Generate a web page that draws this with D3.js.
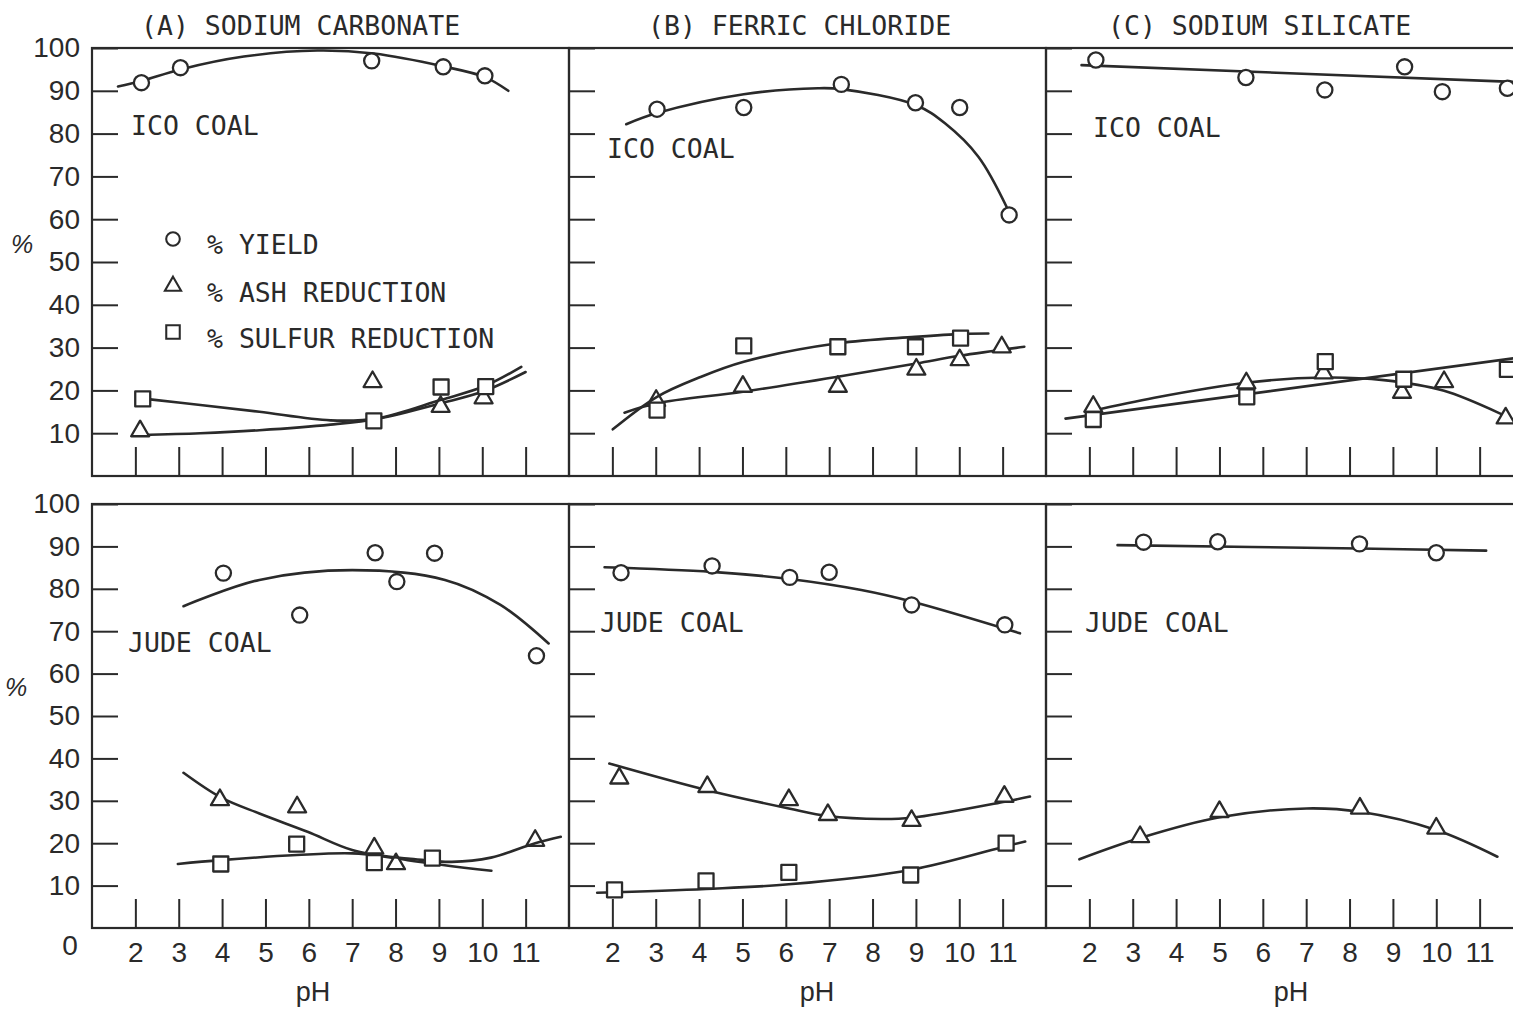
<!DOCTYPE html>
<html>
<head>
<meta charset="utf-8">
<script src="https://cdn.jsdelivr.net/npm/d3@7"></script>
<style>
  body { margin: 0; background: #fff; }
  .mono { font-family: "DejaVu Sans Mono", monospace; font-size: 26.5px; fill: #2a2a2a; }
  .num { font-family: "Liberation Sans Narrow", "Arial Narrow", "Liberation Sans", sans-serif; font-size: 28px; fill: #2a2a2a; }
</style>
</head>
<body>
<svg width="1513" height="1013"></svg>
<script>
// ---- data (pH, %) ----
var phTicks = [2, 3, 4, 5, 6, 7, 8, 9, 10, 11];
var pctTicks = [10, 20, 30, 40, 50, 60, 70, 80, 90, 100];
var titles = ['(A) SODIUM CARBONATE', '(B) FERRIC CHLORIDE', '(C) SODIUM SILICATE'];
var coals = ['ICO COAL', 'JUDE COAL'];
var legendLabels = ['% YIELD', '% ASH REDUCTION', '% SULFUR REDUCTION'];

// ICO coal, sodium carbonate
var icoCarbYield = [[2.14, 91.9], [3.04, 95.4], [7.45, 97.0], [9.1, 95.6], [10.06, 93.5]];
var icoCarbYieldFit = [[1.6, 91.0], [2.14, 92.3], [3.04, 95.0], [4.5, 98.0], [6.2, 99.4], [7.5, 98.7], [9.1, 95.7], [10.06, 93.2], [10.6, 90.0]];
var icoCarbAsh = [[2.11, 10.5], [7.47, 22.0], [9.04, 16.2], [10.03, 18.2]];
var icoCarbAshFit = [[2.12, 9.6], [3.5, 10.0], [4.86, 10.7], [6.5, 12.0], [7.6, 13.4], [9.05, 17.0], [10.03, 19.8], [11.0, 24.3]];
var icoCarbSulfur = [[2.17, 18.0], [7.5, 12.9], [9.05, 20.8], [10.08, 20.9]];
var icoCarbSulfurFit = [[2.34, 17.9], [3.5, 16.6], [4.86, 15.0], [6.5, 13.0], [7.6, 13.5], [9.05, 17.8], [10.03, 20.9], [10.9, 25.5]];

// ICO coal, ferric chloride
var icoFerrYield = [[3.03, 85.7], [5.03, 86.1], [7.28, 91.5], [8.99, 87.2], [10.01, 86.1], [11.15, 61.0]];
var icoFerrYieldFit = [[2.32, 82.2], [3.03, 84.8], [5.03, 89.2], [6.74, 90.6], [7.28, 90.4], [8.99, 86.7], [9.67, 82.4], [10.44, 74.6], [11.09, 62.9]];
var icoFerrAsh = [[3.01, 17.6], [5.01, 20.9], [7.2, 20.9], [9.01, 24.9], [10.01, 27.1], [10.98, 30.1]];
var icoFerrAshFit = [[2.28, 14.8], [3.03, 17.0], [5.01, 19.7], [7.2, 23.2], [9.01, 26.3], [10.01, 28.1], [11.5, 30.2]];
var icoFerrSulfur = [[3.03, 15.4], [5.03, 30.4], [7.2, 30.2], [8.99, 30.2], [10.03, 32.2]];
var icoFerrSulfurFit = [[2.01, 10.9], [3.03, 18.5], [4.0, 23.0], [5.03, 26.7], [7.2, 31.0], [8.98, 32.5], [10.06, 33.2], [10.67, 33.3]];

// ICO coal, sodium silicate
var icoSilYield = [[2.15, 97.2], [5.61, 93.1], [7.43, 90.2], [9.27, 95.6], [10.14, 89.8], [11.64, 90.6]];
var icoSilYieldFit = [[1.82, 96.0], [12.0, 92.0]];
var icoSilAsh = [[2.09, 16.2], [5.62, 21.7], [7.4, 24.0], [9.21, 19.5], [10.18, 22.0], [11.6, 13.5]];
var icoSilAshFit = [[2.05, 15.2], [3.5, 18.3], [5.62, 21.8], [7.4, 23.0], [8.79, 22.4], [10.18, 19.9], [11.6, 14.0], [11.9, 12.5]];
var icoSilSulfur = [[2.09, 13.2], [5.63, 18.5], [7.44, 26.7], [9.25, 22.6], [11.64, 24.9]];
var icoSilSulfurFit = [[1.45, 13.4], [12.0, 27.8]];

// Jude coal, sodium carbonate
var judeCarbYield = [[4.03, 83.7], [5.79, 73.8], [7.53, 88.5], [8.03, 81.7], [8.9, 88.4], [11.25, 64.2]];
var judeCarbYieldFit = [[3.11, 75.9], [4.86, 82.1], [7.0, 84.4], [9.14, 82.1], [10.42, 76.2], [11.53, 67.1]];
var judeCarbAsh = [[3.95, 30.2], [5.73, 28.5], [7.51, 18.8], [8.01, 15.1], [11.22, 20.6]];
var judeCarbAshFit = [[3.11, 36.6], [3.97, 30.8], [4.86, 27.0], [5.97, 22.7], [7.0, 18.4], [8.28, 16.0], [10.21, 13.5]];
var judeCarbSulfur = [[3.97, 15.1], [5.72, 19.8], [7.51, 15.4], [8.85, 16.5]];
var judeCarbSulfurFit = [[2.98, 15.1], [3.97, 16.0], [5.72, 17.2], [7.0, 17.6], [8.28, 16.4], [9.3, 15.6], [10.2, 16.6], [11.22, 20.0], [11.81, 21.5]];

// Jude coal, ferric chloride
var judeFerrYield = [[2.2, 83.8], [4.3, 85.4], [6.09, 82.7], [7.0, 83.9], [8.9, 76.2], [11.05, 71.5]];
var judeFerrYieldFit = [[1.82, 85.1], [4.3, 84.0], [6.09, 82.3], [7.74, 79.7], [8.9, 77.0], [11.4, 69.5]];
var judeFerrAsh = [[2.16, 35.3], [4.19, 33.3], [6.07, 30.2], [6.97, 26.7], [8.9, 25.3], [11.04, 31.0]];
var judeFerrAshFit = [[1.93, 38.8], [4.19, 32.5], [6.07, 28.2], [6.97, 26.4], [8.2, 25.7], [8.9, 26.0], [11.05, 29.8], [11.63, 31.0]];
var judeFerrSulfur = [[2.05, 9.0], [4.16, 11.1], [6.07, 13.1], [8.88, 12.5], [11.08, 20.0]];
var judeFerrSulfurFit = [[1.65, 8.3], [4.16, 9.2], [6.07, 10.3], [8.88, 13.7], [11.08, 19.3], [11.52, 20.4]];

// Jude coal, sodium silicate
var judeSilYield = [[3.25, 91.0], [4.96, 91.1], [8.23, 90.6], [10.0, 88.5]];
var judeSilYieldFit = [[2.65, 90.3], [8.23, 89.5], [11.15, 89.0]];
var judeSilAsh = [[3.17, 21.5], [5.0, 27.4], [8.24, 28.2], [10.0, 23.5]];
var judeSilAshFit = [[1.77, 16.2], [3.17, 21.2], [5.0, 26.1], [7.01, 28.2], [8.24, 27.4], [10.0, 23.1], [11.41, 16.8]];

var series = [
  { row: 0, col: 0, shape: 'circle', pts: icoCarbYield, fit: icoCarbYieldFit },
  { row: 0, col: 0, shape: 'triangle', pts: icoCarbAsh, fit: icoCarbAshFit },
  { row: 0, col: 0, shape: 'square', pts: icoCarbSulfur, fit: icoCarbSulfurFit },
  { row: 0, col: 1, shape: 'circle', pts: icoFerrYield, fit: icoFerrYieldFit },
  { row: 0, col: 1, shape: 'triangle', pts: icoFerrAsh, fit: icoFerrAshFit },
  { row: 0, col: 1, shape: 'square', pts: icoFerrSulfur, fit: icoFerrSulfurFit },
  { row: 0, col: 2, shape: 'circle', pts: icoSilYield, fit: icoSilYieldFit },
  { row: 0, col: 2, shape: 'triangle', pts: icoSilAsh, fit: icoSilAshFit },
  { row: 0, col: 2, shape: 'square', pts: icoSilSulfur, fit: icoSilSulfurFit },
  { row: 1, col: 0, shape: 'circle', pts: judeCarbYield, fit: judeCarbYieldFit },
  { row: 1, col: 0, shape: 'triangle', pts: judeCarbAsh, fit: judeCarbAshFit },
  { row: 1, col: 0, shape: 'square', pts: judeCarbSulfur, fit: judeCarbSulfurFit },
  { row: 1, col: 1, shape: 'circle', pts: judeFerrYield, fit: judeFerrYieldFit },
  { row: 1, col: 1, shape: 'triangle', pts: judeFerrAsh, fit: judeFerrAshFit },
  { row: 1, col: 1, shape: 'square', pts: judeFerrSulfur, fit: judeFerrSulfurFit },
  { row: 1, col: 2, shape: 'circle', pts: judeSilYield, fit: judeSilYieldFit },
  { row: 1, col: 2, shape: 'triangle', pts: judeSilAsh, fit: judeSilAshFit }
];

// ---- layout ----
var ink = '#2a2a2a';
var svg = d3.select('svg');
var colLeft = [92, 569, 1046],
  colW = 477;
var rowTop = [48, 504],
  rowBottom = [476, 928];
var titleX = [141, 648, 1108];
var coalPos = [
  [[131, 135], [607, 158], [1093, 137]],
  [[128, 652], [600, 632], [1085, 632]]
];
var phLabelX = [313, 817, 1291];

svg.append('rect').attr('width', 1513).attr('height', 1013).attr('fill', '#fff');

function xScale(col) {
  return d3.scaleLinear().domain([1, 12]).range([colLeft[col], colLeft[col] + colW]);
}
function yScale(row) {
  return d3.scaleLinear().domain([0, 100]).range([rowBottom[row], rowTop[row]]);
}

var symbolSize = { circle: 180, triangle: 140, square: 225 };
var symbolType = { circle: d3.symbolCircle, triangle: d3.symbolTriangle, square: d3.symbolSquare };
function symbolPath(shape) {
  return d3.symbol().type(symbolType[shape]).size(symbolSize[shape])();
}

// frames + axes
[0, 1].forEach(function(row) {
  [0, 1, 2].forEach(function(col) {
    var x = xScale(col),
      y = yScale(row);
    var g = svg.append('g').attr('class', 'panel');

    g.append('rect')
      .attr('x', colLeft[col])
      .attr('y', rowTop[row])
      .attr('width', colW)
      .attr('height', rowBottom[row] - rowTop[row])
      .attr('fill', 'none')
      .attr('stroke', ink)
      .attr('stroke-width', 2.2);

    var xAxis = g
      .append('g')
      .attr('transform', 'translate(0,' + rowBottom[row] + ')')
      .call(
        d3
          .axisBottom(x)
          .tickValues(phTicks)
          .tickSize(-29)
          .tickPadding(14)
          .tickFormat(row === 1 ? d3.format('d') : function() { return ''; })
      );
    xAxis.select('.domain').remove();
    xAxis.selectAll('line').attr('stroke', ink).attr('stroke-width', 2);
    xAxis.selectAll('text').attr('class', 'num').attr('font-size', null).attr('font-family', null).attr('fill', ink);

    var yAxis = g
      .append('g')
      .attr('transform', 'translate(' + colLeft[col] + ',0)')
      .call(
        d3
          .axisLeft(y)
          .tickValues(pctTicks)
          .tickSize(-26)
          .tickPadding(12)
          .tickFormat(col === 0 ? d3.format('d') : function() { return ''; })
      );
    yAxis.select('.domain').remove();
    yAxis.selectAll('line').attr('stroke', ink).attr('stroke-width', 2);
    yAxis.selectAll('text').attr('class', 'num').attr('font-size', null).attr('font-family', null).attr('fill', ink);

    g.append('text')
      .attr('class', 'mono')
      .attr('x', coalPos[row][col][0])
      .attr('y', coalPos[row][col][1])
      .text(coals[row]);

    if (row === 0) {
      g.append('text')
        .attr('class', 'mono')
        .attr('x', titleX[col])
        .attr('y', 35)
        .text(titles[col]);
    } else {
      g.append('text')
        .attr('class', 'num')
        .attr('x', phLabelX[col])
        .attr('y', 1001)
        .attr('text-anchor', 'middle')
        .style('font-size', '27px')
        .text('pH');
    }
  });
});

// zero label and % labels
svg.append('text').attr('class', 'num').attr('x', 70).attr('y', 955).attr('text-anchor', 'middle').text('0');
svg.append('text').attr('class', 'num').attr('x', 22).attr('y', 253).attr('text-anchor', 'middle')
  .style('font-style', 'italic').style('font-size', '25px').text('%');
svg.append('text').attr('class', 'num').attr('x', 16).attr('y', 696).attr('text-anchor', 'middle')
  .style('font-style', 'italic').style('font-size', '25px').text('%');

// fitted curves and markers
var plot = svg.append('g').attr('class', 'plot');
series.forEach(function(s) {
  var x = xScale(s.col),
    y = yScale(s.row);
  var line = d3
    .line()
    .x(function(d) { return x(d[0]); })
    .y(function(d) { return y(d[1]); })
    .curve(d3.curveCatmullRom.alpha(0.5));

  plot.append('path')
    .datum(s.fit)
    .attr('d', line)
    .attr('fill', 'none')
    .attr('stroke', ink)
    .attr('stroke-width', 2.6)
    .attr('stroke-linecap', 'round');

  plot.append('g')
    .selectAll('path')
    .data(s.pts)
    .enter()
    .append('path')
    .attr('d', symbolPath(s.shape))
    .attr('transform', function(d) {
      return 'translate(' + x(d[0]) + ',' + y(d[1]) + ')';
    })
    .attr('fill', '#fff')
    .attr('stroke', ink)
    .attr('stroke-width', 2.3)
    .attr('stroke-linejoin', 'round');
});

// legend (panel A, ICO coal)
var legendShapes = ['circle', 'triangle', 'square'];
var legendMarkY = [239, 286, 332];
var legendTextY = [254, 302, 348];
var legend = svg.append('g').attr('class', 'legend');
legendLabels.forEach(function(label, i) {
  legend.append('path')
    .attr('d', symbolPath(legendShapes[i]))
    .attr('transform', 'translate(173,' + legendMarkY[i] + ') scale(0.9)')
    .attr('fill', '#fff')
    .attr('stroke', ink)
    .attr('stroke-width', 2.3);
  legend.append('text')
    .attr('class', 'mono')
    .attr('x', 207)
    .attr('y', legendTextY[i])
    .text(label);
});
</script>
</body>
</html>
